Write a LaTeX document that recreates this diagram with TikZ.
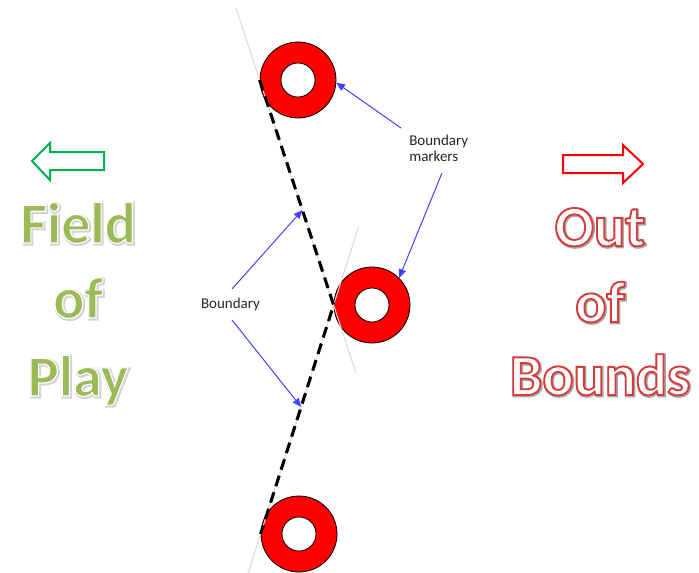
\documentclass[tikz,border=0pt]{standalone}
\usepackage{fontspec}
\setmainfont{Carlito}
\newfontfamily\fopfont[FakeBold=2]{Carlito Bold}
\newfontfamily\oobfont[FakeBold=3.2]{Carlito Bold}
\newfontfamily\fopshadowfont[FakeBold=5.5]{Carlito Bold}
\newfontfamily\oobshadowfont[FakeBold=5.5]{Carlito Bold}
\usetikzlibrary{arrows.meta,calc}
\definecolor{fopgreen}{HTML}{9BBB59}
\definecolor{arrgreen}{HTML}{00B050}
\definecolor{oobred}{HTML}{D93A3A}
\definecolor{markred}{HTML}{FF0000}
\definecolor{linkblue}{HTML}{4040FF}
\definecolor{guide}{HTML}{D9D9D9}
\definecolor{fshadow}{HTML}{D4D4D4}
\definecolor{oshadow}{HTML}{A8A8A8}
\newcommand{\strokergb}[1]{\special{pdf:literal direct #1 RG}}
\begin{document}
\begin{tikzpicture}[x=0.75pt,y=-0.75pt,
  ring/.style={circle,draw=black,line width=0.6pt,fill=markred,minimum size=57pt,inner sep=0pt},
  hole/.style={circle,draw=black,line width=0.6pt,fill=white,minimum size=25.5pt,inner sep=0pt},
  lbl/.style={font=\fontsize{11.25}{12}\selectfont,inner sep=0pt,text=black!85},
  guideline/.style={draw=guide,line width=0.75pt},
  boundline/.style={draw=black,line width=2.3pt,dash pattern=on 8.25pt off 4.75pt},
  pointer/.style={draw=linkblue,line width=0.75pt,-{Triangle[length=6.5pt,width=5.5pt]}},
  blockarrow/.style={line width=1.5pt,fill=white,line join=miter},
  fop/.style={inner sep=0pt,anchor=base,font=\fopfont\fontsize{43.5}{52}\selectfont,text=fopgreen},
  oob/.style={inner sep=0pt,anchor=base,font=\oobfont\fontsize{43.5}{52}\selectfont,text=white},
  fopshadow/.style={inner sep=0pt,anchor=base,font=\fopshadowfont\fontsize{43.5}{52}\selectfont,text=fshadow},
  oobshadow/.style={inner sep=0pt,anchor=base,font=\oobshadowfont\fontsize{43.5}{52}\selectfont,text=oshadow},
  ]
\useasboundingbox (0,0) rectangle (699,572);

% boundary markers
\node[ring] (m1) at (298,80) {};
\node[hole] (h1) at (m1) {};
\node[ring] (m2) at (372,305) {};
\node[hole] (h2) at (m2) {};
\node[ring] (m3) at (299,534) {};
\node[hole] (h3) at (m3) {};

% tangent guide lines
\draw[guideline] ($(m1.west)!-0.32!(m2.west)$) -- ($(m1.west)!1.3!(m2.west)$);
\draw[guideline] ($(m2.west)!-0.34!(m3.west)$) -- ($(m2.west)!1.17!(m3.west)$);

% boundary (dashed)
\draw[boundline] (m1.west) -- (m2.west) -- (m3.west);

% labels
\node[lbl,anchor=base] (bl) at (230.5,308) {Boundary};
\node[lbl,align=left,anchor=north west] (bm) at (409,134.6) {Boundary\\markers};

% pointers
\coordinate (p1s) at (232,289);
\coordinate (p2s) at (232,320);
\coordinate (p1t) at ($(m1.west)!0.578!(m2.west)$);
\coordinate (p2t) at ($(m2.west)!0.445!(m3.west)$);
\coordinate (q1s) at (401,128);
\coordinate (q2s) at (442,173);
\draw[pointer] (p1s) -- (p1t);
\draw[pointer] (p2s) -- (p2t);
\draw[pointer] (q1s) -- (m1.-4);
\draw[pointer] (q2s) -- (m2.45);

% block arrows
\draw[blockarrow,draw=arrgreen] (32,161) -- (50,143) -- (50,152) -- (104,152) -- (104,170) -- (50,170) -- (50,180) -- cycle;
\draw[blockarrow,draw=markred] (643,164) -- (623,145) -- (623,155) -- (563,155) -- (563,173) -- (623,173) -- (623,183) -- cycle;

% Field of Play
\node[fopshadow] (fs1) at (79,244) {Field};
\node[fopshadow] (fs2) at (79,319) {of};
\node[fopshadow] (fs3) at (79,397) {Play};
\node[fop] (f1) at (78,243) {\strokergb{1 1 1}Field};
\node[fop] (f2) at (78,318) {\strokergb{1 1 1}of};
\node[fop] (f3) at (78,396) {\strokergb{1 1 1}Play};

% Out of Bounds
\node[oobshadow] (os1) at (600.8,246.8) {Out};
\node[oobshadow] (os2) at (600.8,322.8) {of};
\node[oobshadow] (os3) at (600.8,395.8) {Bounds};
\node[oob] (o1) at (600,246) {\strokergb{0.851 0.227 0.227}Out};
\node[oob] (o2) at (600,322) {\strokergb{0.851 0.227 0.227}of};
\node[oob] (o3) at (600,395) {\strokergb{0.851 0.227 0.227}Bounds};
\end{tikzpicture}
\end{document}
